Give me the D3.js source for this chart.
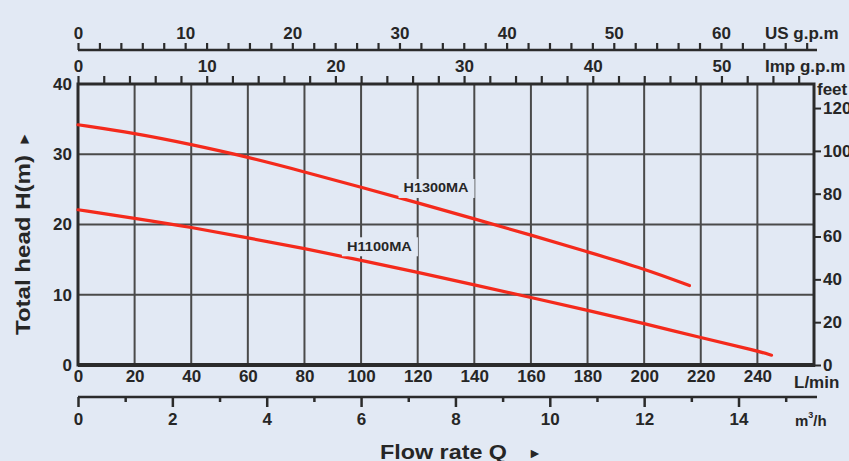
<!DOCTYPE html>
<html>
<head>
<meta charset="utf-8">
<script src="https://cdn.jsdelivr.net/npm/d3@7/dist/d3.min.js"></script>
<style>
  html, body { margin: 0; padding: 0; background: #e2e9f4; }
  svg { display: block; }
  text { font-family: "Liberation Sans", Arial, Helvetica, sans-serif; font-weight: bold; fill: #262626; }
</style>
</head>
<body>
<svg id="chart" width="849" height="461"></svg>
<script>
// ---------- data ----------
const flowTicksLmin = [0, 20, 40, 60, 80, 100, 120, 140, 160, 180, 200, 220, 240];
const headTicksM = [0, 10, 20, 30, 40];
const headTicksFt = [0, 20, 40, 60, 80, 100, 120];
const m3hMajor = [0, 2, 4, 6, 8, 10, 12, 14];
const m3hMinor = [1, 3, 5, 7, 9, 11, 13, 15];
const usLabels = [0, 10, 20, 30, 40, 50, 60];
const impLabels = [0, 10, 20, 30, 40, 50];

const flowH1300 = [0, 20, 40, 60, 80, 100, 120, 140, 160, 180, 200, 216];
const headH1300 = [34.2, 33.0, 31.4, 29.6, 27.5, 25.3, 23.1, 20.8, 18.5, 16.1, 13.7, 11.3];
const flowH1100 = [0, 20, 40, 60, 80, 100, 120, 140, 160, 180, 200, 220, 240, 245];
const headH1100 = [22.1, 20.9, 19.6, 18.1, 16.6, 14.9, 13.2, 11.4, 9.6, 7.8, 5.9, 3.9, 2.0, 1.4];

const seriesNames = ["H1300MA", "H1100MA"];

// ---------- layout ----------
const svg = d3.select("#chart");
const W = 849, H = 461;
const L = 78, R = 814, T = 84, B = 365;
const maxLmin = 260, maxHead = 40;
const bg = "#e2e9f4";

const x = d3.scaleLinear().domain([0, maxLmin]).range([L, R]);
const y = d3.scaleLinear().domain([0, maxHead]).range([B, T]);
const xM3h = d3.scaleLinear().domain([0, maxLmin * 60 / 1000]).range([L, R]);
const xUS = d3.scaleLinear().domain([0, maxLmin / 3.78541]).range([L, R]);
const xImp = d3.scaleLinear().domain([0, maxLmin / 4.54609]).range([L, R]);
const yFt = d3.scaleLinear().domain([0, maxHead * 3.28084]).range([B, T]);

const ink = "#2b2b2b";
const FS = 17;

svg.append("rect").attr("width", W).attr("height", H).attr("fill", bg);

// grid
const grid = svg.append("g");
grid.selectAll("line.v").data(flowTicksLmin.filter(d => d > 0)).join("line")
  .attr("x1", d => x(d)).attr("x2", d => x(d)).attr("y1", T).attr("y2", B)
  .attr("stroke", "#4a4a4a").attr("stroke-width", 2);
grid.selectAll("line.h").data(headTicksM.filter(d => d > 0 && d < maxHead)).join("line")
  .attr("x1", L).attr("x2", R).attr("y1", d => y(d)).attr("y2", d => y(d))
  .attr("stroke", "#4a4a4a").attr("stroke-width", 2.2);

// frame
svg.append("rect").attr("x", L).attr("y", T).attr("width", R - L).attr("height", B - T)
  .attr("fill", "none").attr("stroke", ink).attr("stroke-width", 3);
svg.append("line").attr("x1", L).attr("x2", R + 1).attr("y1", B).attr("y2", B)
  .attr("stroke", ink).attr("stroke-width", 4);

// curves
const line = d3.line().x(d => x(d[0])).y(d => y(d[1])).curve(d3.curveBasis);
const curves = [
  d3.zip(flowH1300, headH1300),
  d3.zip(flowH1100, headH1100)
];
svg.selectAll("path.curve").data(curves).join("path")
  .attr("class", "curve")
  .attr("d", line)
  .attr("fill", "none").attr("stroke", "#f42a1c").attr("stroke-width", 3.2)
  .attr("stroke-linecap", "round");

// series labels with background boxes
const labelPos = [[115, 25.2], [95, 16.9]]; // left edge & centre, data units
svg.selectAll("rect.lbg").data(seriesNames).join("rect")
  .attr("x", (d, i) => x(labelPos[i][0]) - 5)
  .attr("y", (d, i) => y(labelPos[i][1]) - 9)
  .attr("width", 76).attr("height", 19)
  .attr("fill", bg);
svg.selectAll("text.lbl").data(seriesNames).join("text")
  .attr("x", (d, i) => x(labelPos[i][0]))
  .attr("y", (d, i) => y(labelPos[i][1]))
  .attr("dominant-baseline", "central")
  .attr("font-size", 13)
  .attr("textLength", 65).attr("lengthAdjust", "spacingAndGlyphs")
  .text(d => d);

// left axis (m)
const gLeft = svg.append("g").attr("transform", `translate(${L},0)`)
  .call(d3.axisLeft(y).tickValues(headTicksM).tickSize(0).tickPadding(6));
gLeft.select(".domain").remove();
gLeft.selectAll("text").attr("font-size", FS).attr("fill", ink).attr("font-family", null);

// right axis (feet)
const gRight = svg.append("g").attr("transform", `translate(${R},0)`)
  .call(d3.axisRight(yFt).tickValues(headTicksFt).tickSize(7).tickPadding(2));
gRight.select(".domain").remove();
gRight.selectAll("line").attr("stroke", ink).attr("stroke-width", 2);
gRight.selectAll("text").attr("font-size", FS).attr("fill", ink).attr("font-family", null);
svg.append("text").attr("x", 817).attr("y", 89).attr("dominant-baseline", "central")
  .attr("font-size", FS).text("feet");

// bottom L/min labels
const gBot = svg.append("g").attr("transform", `translate(0,${B})`)
  .call(d3.axisBottom(x).tickValues(flowTicksLmin).tickSize(0).tickPadding(5));
gBot.select(".domain").remove();
gBot.selectAll("text").attr("font-size", FS).attr("fill", ink).attr("font-family", null);
svg.append("text").attr("x", 794).attr("y", 382).attr("dominant-baseline", "central")
  .attr("font-size", FS).text("L/min");

// m3/h axis
const yM = 397;
svg.append("line").attr("x1", L).attr("x2", 817).attr("y1", yM).attr("y2", yM)
  .attr("stroke", ink).attr("stroke-width", 2.5);
const gM = svg.append("g").attr("transform", `translate(0,${yM})`)
  .call(d3.axisBottom(xM3h).tickValues(m3hMajor).tickSize(10).tickPadding(6));
gM.select(".domain").remove();
gM.selectAll("line").attr("stroke", ink).attr("stroke-width", 2.5);
gM.selectAll("text").attr("font-size", FS).attr("fill", ink).attr("font-family", null);
const gMm = svg.append("g").attr("transform", `translate(0,${yM})`)
  .call(d3.axisBottom(xM3h).tickValues(m3hMinor).tickSize(5).tickFormat(""));
gMm.select(".domain").remove();
gMm.selectAll("line").attr("stroke", ink).attr("stroke-width", 2.5);
const m3 = svg.append("text").attr("x", 795).attr("y", 420).attr("dominant-baseline", "central")
  .attr("font-size", 15);
m3.append("tspan").text("m");
m3.append("tspan").attr("font-size", 9).attr("dy", -5).text("3");
m3.append("tspan").attr("dy", 5).text("/h");

// top US gpm axis
const yUS = 50;
svg.append("line").attr("x1", L).attr("x2", 817).attr("y1", yUS).attr("y2", yUS)
  .attr("stroke", ink).attr("stroke-width", 2.5);
const gUS = svg.append("g").attr("transform", `translate(0,${yUS})`)
  .call(d3.axisTop(xUS).tickValues(d3.range(0, 69, 2)).tickSize(7).tickPadding(4)
    .tickFormat(d => usLabels.includes(d) ? d : ""));
gUS.select(".domain").remove();
gUS.selectAll("line").attr("stroke", ink).attr("stroke-width", 2.2);
gUS.selectAll("text").attr("font-size", FS).attr("fill", ink).attr("font-family", null);
svg.append("text").attr("x", 765).attr("y", 33).attr("dominant-baseline", "central")
  .attr("font-size", FS).text("US g.p.m");

// top Imp gpm axis (on plot frame)
const gImp = svg.append("g").attr("transform", `translate(0,${T - 1})`)
  .call(d3.axisTop(xImp).tickValues(d3.range(0, 57, 2)).tickSize(7).tickPadding(4)
    .tickFormat(d => impLabels.includes(d) ? d : ""));
gImp.select(".domain").remove();
gImp.selectAll("line").attr("stroke", ink).attr("stroke-width", 2.2);
gImp.selectAll("text").attr("font-size", FS).attr("fill", ink).attr("font-family", null);
svg.append("text").attr("x", 765).attr("y", 66).attr("dominant-baseline", "central")
  .attr("font-size", FS).text("Imp g.p.m");

// axis titles
svg.append("text")
  .attr("transform", "translate(23,245) rotate(-90)")
  .attr("text-anchor", "middle").attr("dominant-baseline", "central")
  .attr("font-size", 20).attr("textLength", 180).attr("lengthAdjust", "spacingAndGlyphs")
  .text("Total head H(m)");
svg.append("text")
  .attr("transform", "translate(23,139) rotate(-90)")
  .attr("text-anchor", "middle").attr("dominant-baseline", "central")
  .attr("font-size", 15).text("►");

svg.append("text").attr("x", 380).attr("y", 452).attr("dominant-baseline", "central")
  .attr("font-size", 20).attr("textLength", 127).attr("lengthAdjust", "spacingAndGlyphs")
  .text("Flow rate Q");
svg.append("text").attr("x", 535).attr("y", 453).attr("text-anchor", "middle")
  .attr("dominant-baseline", "central").attr("font-size", 14).text("►");
</script>
</body>
</html>
